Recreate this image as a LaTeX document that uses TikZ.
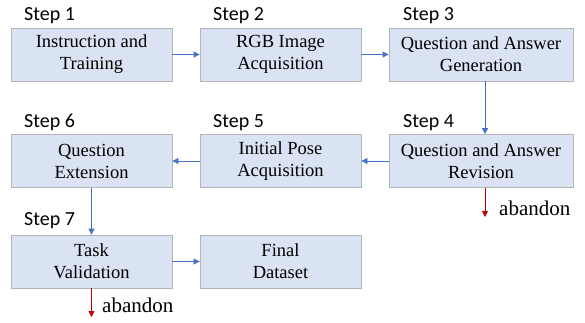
\documentclass[tikz,border=0pt]{standalone}
\usepackage{fontspec}
\setmainfont{Liberation Serif}
\newfontfamily\stepfont{Carlito}
\usetikzlibrary{arrows.meta}

\definecolor{boxfill}{HTML}{DAE3F3}
\definecolor{boxline}{HTML}{B4B4B4}
\definecolor{flowblue}{HTML}{4472C4}
\definecolor{rejectred}{HTML}{C00000}

\begin{document}
\begin{tikzpicture}[x=1pt, y=-1pt,
		stage/.style={draw=boxline, fill=boxfill, line width=0.8pt, minimum width=161pt, minimum height=53pt, inner sep=0pt, align=center, font=\fontsize{18.5}{22}\selectfont},
		widestage/.style={stage, minimum width=184pt},
		steplabel/.style={anchor=base west, inner sep=0pt, font=\stepfont\fontsize{20}{22}\selectfont},
		flow/.style={draw=flowblue, line width=0.8pt, -{Triangle[length=6pt, width=6pt]}},
		reject/.style={draw=rejectred, line width=0.8pt, -{Triangle[length=6pt, width=6pt]}},
		droplabel/.style={anchor=base west, inner sep=0pt, font=\fontsize{21}{22}\selectfont}]
		\useasboundingbox (0,0) rectangle (585,322);

		% boxes
		\node[stage] (s1) at (91.5, 54.5) {Instruction and\\Training};
		\node[stage] (s2) at (280.5, 54.5) {RGB Image\\Acquisition};
		\node[widestage] (s3) at (481, 54.5) {Question and Answer\\Generation};
		\node[widestage] (s4) at (481, 161) {Question and Answer\\Revision};
		\node[stage] (s5) at (280.5, 161) {Initial Pose\\Acquisition};
		\node[stage] (s6) at (91.5, 161) {Question\\Extension};
		\node[stage] (s7) at (91.5, 261.5) {Task\\Validation};
		\node[stage] (fd) at (280.5, 261.5) {Final\\Dataset};

		% step labels
		\node[steplabel] (l1) at (24, 20) {Step 1};
		\node[steplabel] (l2) at (213, 20) {Step 2};
		\node[steplabel] (l3) at (403, 20) {Step 3};
		\node[steplabel] (l4) at (403, 127) {Step 4};
		\node[steplabel] (l5) at (213, 127) {Step 5};
		\node[steplabel] (l6) at (24, 127) {Step 6};
		\node[steplabel] (l7) at (24, 225) {Step 7};

		% flow
		\draw[flow] (s1) -- (s2);
		\draw[flow] (s2) -- (s3);
		\draw[flow] ([xshift=4pt]s3.south) -- ([xshift=4pt]s4.north);
		\draw[flow] (s4) -- (s5);
		\draw[flow] (s5) -- (s6);
		\draw[flow] (s6) -- (s7);
		\draw[flow] (s7) -- (fd);

		% abandon
		\coordinate (a4) at (485, 217);
		\coordinate (a7) at (91.5, 317);
		\draw[reject] ([xshift=4pt]s4.south) -- (a4);
		\draw[reject] (s7.south) -- (a7);
		\node[droplabel] (t4) at (499, 215) {abandon};
		\node[droplabel] (t7) at (102, 312) {abandon};
	\end{tikzpicture}
\end{document}
